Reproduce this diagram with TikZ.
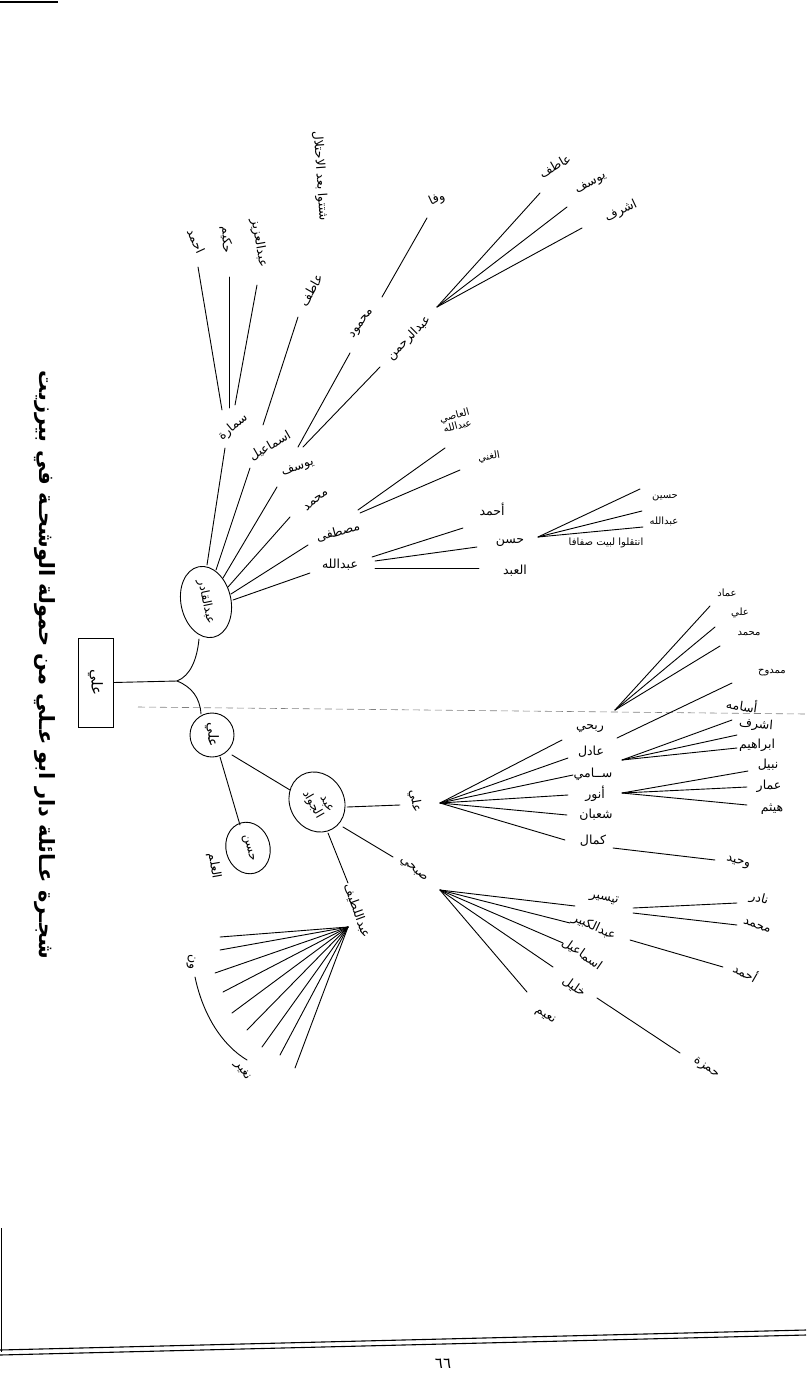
\documentclass[tikz,border=0pt]{standalone}
\usepackage{fontspec}
\usetikzlibrary{shapes.geometric}
\newfontfamily\arabicfont[Script=Arabic]{DejaVu Sans}
\TeXXeTstate=1
\newcommand{\ar}[1]{\beginR #1\endR}
\tikzset{
  lbl/.style={inner sep=0pt, font=\arabicfont\fontsize{12.5}{14}\selectfont},
  sml/.style={inner sep=0pt, font=\arabicfont\fontsize{10}{11}\selectfont},
  ttl/.style={inner sep=0pt, font=\arabicfont\bfseries\fontsize{21}{24}\selectfont},
  br/.style={line width=0.9pt, line cap=round},
  ring/.style={draw, line width=0.9pt, inner sep=0pt, font=\arabicfont\fontsize{12}{13}\selectfont},
  fold/.style={line width=0.6pt, gray, dash pattern=on 7pt off 4pt},
  frame/.style={line width=1.1pt}
}
\begin{document}
\begin{tikzpicture}[x=1pt,y=-1pt]
\useasboundingbox (0,0) rectangle (806,1373);
\fill[white] (0,0) rectangle (806,1373);

% ---------- page frame ----------
\coordinate (ftA) at (0,2); \coordinate (ftB) at (58,2);
\coordinate (flA) at (1.5,1228); \coordinate (flB) at (1.5,1352);
\coordinate (fb1A) at (0,1350); \coordinate (fb1B) at (806,1330);
\coordinate (fb2A) at (0,1355); \coordinate (fb2B) at (806,1335);
\draw[frame] (ftA) -- (ftB);
\draw[frame] (flA) -- (flB);
\draw[frame] (fb1A) -- (fb1B);
\draw[frame] (fb2A) -- (fb2B);
\node[inner sep=0pt, font=\arabicfont\fontsize{15}{16}\selectfont] (pnum) at (443,1364) {\ar{٦٦}};

% ---------- fold line ----------
\coordinate (dL) at (138,707); \coordinate (dR) at (806,714);
\draw[fold] (dL) -- (dR);

% ---------- title ----------
\node[ttl, rotate=-90] (title) at (45,665) {\ar{شجـرة عـائلة دار ابو عـلي من حمولة الوشحـة في بيرزيت}};

% ---------- root ----------
\node[draw, line width=0.9pt, minimum width=89pt, minimum height=35pt, rotate=-90,
      font=\arabicfont\fontsize{15}{16}\selectfont] (root) at (95.5,682.5) {\ar{علي}};
\node[ring, ellipse, minimum width=72pt, minimum height=50pt, rotate=-78] (abdq) at (206,602) {\ar{عبدالقادر}};
\node[ring, circle, minimum size=44pt, rotate=-90, font=\arabicfont\fontsize{14}{15}\selectfont] (ali1) at (212,735) {\ar{علي}};

\coordinate (j0) at (177,681);
\coordinate (aqB) at (199,639);
\coordinate (a1T) at (201,714);
\draw[br] (root.north) -- (j0);
\draw[br] (j0) .. controls (190,676) and (197,660) .. (aqB);
\draw[br] (j0) .. controls (192,687) and (200,698) .. (a1T);

% ---------- upper branch labels ----------
\node[lbl, rotate=40] (samara) at (233,427) {\ar{سمارة}};
\node[lbl, rotate=30] (ismail) at (270,446) {\ar{اسماعيل}};
\node[lbl, rotate=20] (yusuf) at (298,468) {\ar{يوسف}};
\node[lbl, rotate=40] (muh1) at (316,500) {\ar{محمد}};
\node[lbl, rotate=15] (mustafa) at (338,532) {\ar{مصطفى}};
\node[lbl] (abdallah) at (340,565) {\ar{عبدالله}};
\node[lbl, rotate=60] (atef1) at (311,290) {\ar{عاطف}};
\node[lbl, rotate=55] (mahmoud) at (362,324) {\ar{محمود}};
\node[lbl, rotate=45] (abdrahman) at (409,338) {\ar{عبدالرحمن}};
\node[lbl, rotate=25] (wafa) at (437,199) {\ar{وفا}};
\node[lbl, rotate=30] (atef2) at (555,166) {\ar{عاطف}};
\node[lbl, rotate=30] (yusuf2) at (591,184) {\ar{يوسف}};
\node[lbl, rotate=25] (ashraf1) at (621,211) {\ar{اشرف}};
\node[sml, rotate=15, align=center] (asi) at (456,421) {\ar{العاصي}\\\ar{عبدالله}};
\node[sml, rotate=10] (ghani) at (489,457) {\ar{الغني}};
\node[lbl, rotate=-65] (ahmad1) at (196,241) {\ar{احمد}};
\node[lbl, rotate=-88] (hakim) at (226,240) {\ar{حكيم}};
\node[lbl, rotate=-80] (abdaziz) at (259,243) {\ar{عبدالعزيز}};
\node[lbl, rotate=-86] (note) at (320,176) {\ar{شتتوا بعد الاحتلال}};

% ---------- middle labels ----------
\node[lbl] (ahmad2) at (492,509) {\ar{أحمد}};
\node[lbl] (hasan2) at (510,543) {\ar{حسن}};
\node[lbl] (abd) at (515,571) {\ar{العبد}};
\node[sml] (husein) at (665,498) {\ar{حسين}};
\node[sml] (abdallah3) at (664,521) {\ar{عبدالله}};
\node[sml] (moved) at (606,543) {\ar{انتقلوا لبيت صفافا}};

% ---------- upper connectors ----------
\coordinate (aq1) at (207,565); \coordinate (samB) at (225,448);
\coordinate (aq2) at (216,570); \coordinate (ismB) at (250,468);
\coordinate (aq3) at (223,578); \coordinate (yusB) at (277,487);
\coordinate (aq4) at (228,587); \coordinate (muhB) at (290,517);
\coordinate (aq5) at (231,594); \coordinate (musB) at (308,545);
\coordinate (aq6) at (233,600); \coordinate (abdlB) at (310,573);
\draw[br] (aq1) -- (samB);
\draw[br] (aq2) -- (ismB);
\draw[br] (aq3) -- (yusB);
\draw[br] (aq4) -- (muhB);
\draw[br] (aq5) -- (musB);
\draw[br] (aq6) -- (abdlB);

\coordinate (samT1) at (222,410); \coordinate (ahmT) at (198,267);
\coordinate (samT2) at (229,408); \coordinate (hakT) at (229,277);
\coordinate (samT3) at (235,405); \coordinate (azT) at (257,285);
\draw[br] (samT1) -- (ahmT);
\draw[br] (samT2) -- (hakT);
\draw[br] (samT3) -- (azT);
\coordinate (ismT) at (263,425); \coordinate (atefB) at (298,317);
\draw[br] (ismT) -- (atefB);
\coordinate (yusT1) at (298,447); \coordinate (mahB) at (350,353);
\coordinate (yusT2) at (303,447); \coordinate (rahB) at (380,367);
\draw[br] (yusT1) -- (mahB);
\draw[br] (yusT2) -- (rahB);
\coordinate (mahT) at (382,297); \coordinate (wafaB) at (427,218);
\draw[br] (mahT) -- (wafaB);
\coordinate (rahA) at (437,307);
\coordinate (atef2B) at (540,193); \coordinate (yus2B) at (567,207); \coordinate (ash1B) at (582,228);
\draw[br] (rahA) -- (atef2B);
\draw[br] (rahA) -- (yus2B);
\draw[br] (rahA) -- (ash1B);
\coordinate (musT1) at (358,510); \coordinate (asiB) at (445,448);
\coordinate (musT2) at (360,513); \coordinate (ghaniB) at (460,470);
\draw[br] (musT1) -- (asiB);
\draw[br] (musT2) -- (ghaniB);
\coordinate (abdlR1) at (372,557); \coordinate (ahm2L) at (463,528);
\coordinate (abdlR2) at (375,561); \coordinate (has2L) at (477,547);
\coordinate (abdlR3) at (375,568); \coordinate (abdL) at (479,568);
\draw[br] (abdlR1) -- (ahm2L);
\draw[br] (abdlR2) -- (has2L);
\draw[br] (abdlR3) -- (abdL);
\coordinate (hasA) at (538,537);
\coordinate (husL) at (640,489); \coordinate (abd3L) at (642,511); \coordinate (endL) at (643,527);
\draw[br] (hasA) -- (husL);
\draw[br] (hasA) -- (abd3L);
\draw[br] (hasA) -- (endL);

% ---------- lower nodes ----------
\node[ring, ellipse, minimum width=52pt, minimum height=44pt, rotate=-75] (hasan1) at (248,848) {\ar{حسن}};
\node[lbl, rotate=-80] (alam) at (214,866) {\ar{العلم}};
\node[ring, ellipse, minimum width=62pt, minimum height=54pt, rotate=-60, align=right] (jawad) at (317,802) {\ar{عبد}\\\ar{الجواد}};
\node[lbl, rotate=-80] (ali2) at (415,801) {\ar{علي}};
\node[lbl, rotate=-40] (subhi) at (413,870) {\ar{صبحي}};
\node[lbl, rotate=-70] (latif) at (357,911) {\ar{عبداللطيف}};
\node[lbl, rotate=-90] (wn) at (191,962) {\ar{ون}};
\node[lbl, rotate=-55] (naghir) at (242,1071) {\ar{نغير}};

\node[lbl] (rabhi) at (590,729) {\ar{ربحي}};
\node[lbl] (adel) at (591,752) {\ar{عادل}};
\node[lbl] (sami) at (593,774) {\ar{ســامي}};
\node[lbl] (anwar) at (595,794) {\ar{أنور}};
\node[lbl] (shaban) at (596,815) {\ar{شعبان}};
\node[lbl] (kamal) at (593,841) {\ar{كمال}};
\node[sml] (imad) at (727,593) {\ar{عماد}};
\node[sml] (ali3) at (740,613) {\ar{علي}};
\node[sml] (muh3) at (749,634) {\ar{محمد}};
\node[sml] (mamdouh) at (772,673) {\ar{ممدوح}};
\node[lbl, rotate=-8] (usama) at (742,705) {\ar{أسامه}};
\node[lbl, rotate=-5] (ashraf2) at (756,725) {\ar{اشرف}};
\node[lbl] (ibrahim) at (757,745) {\ar{ابراهيم}};
\node[lbl] (nabil) at (768,765) {\ar{نبيل}};
\node[lbl] (ammar) at (769,786) {\ar{عمار}};
\node[lbl] (haitham) at (772,809) {\ar{هيثم}};
\node[lbl, rotate=-15] (wahid) at (738,863) {\ar{وحيد}};
\node[lbl, rotate=-12] (tayseer) at (604,899) {\ar{تيسير}};
\node[lbl, rotate=-25] (abdkabir) at (594,927) {\ar{عبدالكبير}};
\node[lbl, rotate=-35] (ismail2) at (582,954) {\ar{اسماعيل}};
\node[lbl, rotate=-35] (khalil) at (574,987) {\ar{خليل}};
\node[lbl, rotate=-30] (naim) at (545,1016) {\ar{نعيم}};
\node[lbl, rotate=-15] (nader) at (759,899) {\ar{نادر}};
\node[lbl, rotate=-20] (muh4) at (757,926) {\ar{محمد}};
\node[lbl, rotate=-30] (ahmad3) at (746,972) {\ar{أحمد}};
\node[lbl, rotate=-35] (hamza) at (706,1068) {\ar{حمزة}};

% ---------- lower connectors ----------
\coordinate (a1a) at (220,757); \coordinate (h1T) at (240,825);
\coordinate (a1b) at (232,755); \coordinate (jwT) at (290,790);
\draw[br] (a1a) -- (h1T);
\draw[br] (a1b) -- (jwT);
\coordinate (jwR1) at (347,807); \coordinate (ali2L) at (400,805);
\coordinate (jwR2) at (343,827); \coordinate (subL) at (393,857);
\coordinate (jwR3) at (328,833); \coordinate (latT) at (348,883);
\draw[br] (jwR1) -- (ali2L);
\draw[br] (jwR2) -- (subL);
\draw[br] (jwR3) -- (latT);

\coordinate (latA) at (348,927);
\foreach \i/\px/\py in {1/220/937,2/220/950,3/215/973,4/223/992,5/232/1013,6/247/1030,7/262/1047,8/280/1055,9/295/1068}
  \coordinate (lat\i) at (\px,\py);
\foreach \i in {1,...,9} \draw[br] (latA) -- (lat\i);
\coordinate (arcT) at (195,977); \coordinate (arcB) at (247,1060);
\draw[br] (arcT) .. controls (203,1015) and (222,1045) .. (arcB);

\coordinate (ali2A) at (440,803);
\foreach \n/\px/\py in {rabL/562/740,adelL/568/758,samiL/573/775,anwL/568/795,shaL/567/815,kamL/565/840}
  \coordinate (\n) at (\px,\py);
\foreach \n in {rabL,adelL,samiL,anwL,shaL,kamL} \draw[br] (ali2A) -- (\n);

\coordinate (rabA) at (615,710);
\coordinate (imadL) at (710,606); \coordinate (ali3L) at (715,627); \coordinate (muh3L) at (720,646);
\draw[br] (rabA) -- (imadL);
\draw[br] (rabA) -- (ali3L);
\draw[br] (rabA) -- (muh3L);
\coordinate (rabR) at (617,738); \coordinate (mamL) at (732,683);
\draw[br] (rabR) -- (mamL);
\coordinate (adelR) at (622,760);
\coordinate (usaL) at (732,720); \coordinate (ash2L) at (737,735); \coordinate (ibrL) at (737,748);
\draw[br] (adelR) -- (usaL);
\draw[br] (adelR) -- (ash2L);
\draw[br] (adelR) -- (ibrL);
\coordinate (anwR) at (622,793);
\coordinate (nabL) at (748,771); \coordinate (ammL) at (747,787); \coordinate (haiL) at (747,805);
\draw[br] (anwR) -- (nabL);
\draw[br] (anwR) -- (ammL);
\draw[br] (anwR) -- (haiL);
\coordinate (kamR) at (613,848); \coordinate (wahL) at (715,860);
\draw[br] (kamR) -- (wahL);

\coordinate (subA) at (440,890);
\foreach \n/\px/\py in {tayL/575/906,kabL/570/923,ism2L/563/943,khaL/553/967,naiL/527/992}
  \coordinate (\n) at (\px,\py);
\foreach \n in {tayL,kabL,ism2L,khaL,naiL} \draw[br] (subA) -- (\n);
\coordinate (tayR1) at (633,908); \coordinate (nadL) at (737,903);
\coordinate (tayR2) at (633,913); \coordinate (muh4L) at (737,925);
\draw[br] (tayR1) -- (nadL);
\draw[br] (tayR2) -- (muh4L);
\coordinate (kabR) at (630,940); \coordinate (ahm3L) at (723,967);
\draw[br] (kabR) -- (ahm3L);
\coordinate (khaR) at (597,998); \coordinate (hamL) at (680,1053);
\draw[br] (khaR) -- (hamL);
\end{tikzpicture}
\end{document}
